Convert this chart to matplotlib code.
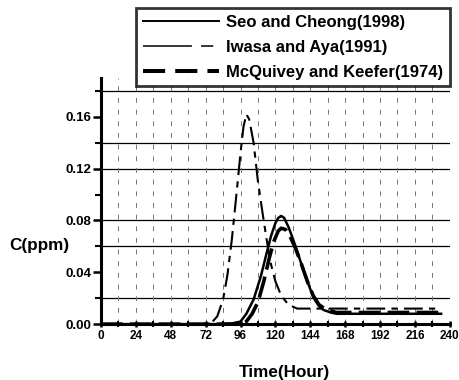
import matplotlib
matplotlib.use('Agg')
import matplotlib.pyplot as plt
from matplotlib.lines import Line2D
from matplotlib.ticker import MultipleLocator, FormatStrFormatter

plt.rcParams['font.family'] = ['Liberation Sans', 'DejaVu Sans']
plt.rcParams['font.weight'] = 'bold'

# data (hours, ppm)
seo_t = [0, 40, 80, 90, 96, 100, 105, 110, 114, 117, 120, 122, 124, 126, 129, 132, 135,
         138, 141, 144, 147, 150, 153, 158, 162, 170, 190, 210, 234]
seo_c = [0.0, 0.0, 0.0, 0.0005, 0.002, 0.008, 0.019, 0.037, 0.055, 0.068, 0.078, 0.082,
         0.0835, 0.082, 0.075, 0.066, 0.056, 0.046, 0.036, 0.027, 0.019, 0.014, 0.011,
         0.009, 0.008, 0.008, 0.008, 0.008, 0.008]

iwasa_t = [0, 40, 70, 76, 80, 84, 87, 90, 93, 96, 98, 100, 102, 105, 108, 111, 114, 117,
           120, 124, 129, 135, 145, 160, 180, 200, 220, 232]
iwasa_c = [0.0, 0.0, 0.0, 0.001, 0.006, 0.019, 0.038, 0.065, 0.098, 0.132, 0.152, 0.162,
           0.158, 0.14, 0.11, 0.087, 0.065, 0.046, 0.033, 0.022, 0.015, 0.012, 0.012,
           0.012, 0.012, 0.012, 0.012, 0.012]

mcq_t = [0, 60, 95, 100, 104, 108, 112, 116, 119, 122, 124, 127, 130, 134, 138, 142, 146,
         150, 155, 162, 175, 200, 225, 234]
mcq_c = [0.0, 0.0, 0.0, 0.002, 0.008, 0.017, 0.033, 0.052, 0.064, 0.072, 0.074, 0.073,
         0.068, 0.058, 0.046, 0.033, 0.022, 0.015, 0.011, 0.009, 0.009, 0.009, 0.009, 0.009]

labels = ['Seo and Cheong(1998)', 'Iwasa and Aya(1991)', 'McQuivey and Keefer(1974)']

hgrid = [0.02, 0.06, 0.08, 0.12, 0.14, 0.18]   # the horizontal rules that show in the scan

fig = plt.figure(figsize=(4.59, 3.80), dpi=100)
ax = fig.add_axes([0.22, 0.147, 0.76, 0.648])

# grid
for v in hgrid:
    ax.axhline(v, color='black', lw=0.9, zorder=1)
for h in range(12, 241, 12):
    ax.axvline(h, color='0.45', lw=0.7, ls=(0, (5, 7)), zorder=1)

ax.plot(seo_t, seo_c, color='black', lw=1.8, zorder=3)
ax.plot(iwasa_t, iwasa_c, color='black', lw=1.5, ls=(0, (9, 3, 3, 3)), zorder=3)
ax.plot(mcq_t, mcq_c, color='black', lw=2.6, ls=(0, (6, 2)), zorder=3)

ax.set_xlim(0, 240)
ax.set_ylim(0, 0.19)
ax.xaxis.set_major_locator(MultipleLocator(24))
ax.xaxis.set_minor_locator(MultipleLocator(12))
ax.yaxis.set_major_locator(MultipleLocator(0.04))
ax.yaxis.set_minor_locator(MultipleLocator(0.02))
ax.yaxis.set_major_formatter(FormatStrFormatter('%.2f'))

for s in ['top', 'right']:
    ax.spines[s].set_visible(False)
for s in ['left', 'bottom']:
    ax.spines[s].set_linewidth(2.2)

ax.tick_params(axis='x', which='major', labelsize=8.5, width=1.8, length=5)
ax.tick_params(axis='y', which='major', labelsize=9.5, width=1.8, length=6)
ax.tick_params(axis='both', which='minor', width=1.5, length=4)
ax.tick_params(axis='x', which='both', direction='inout', pad=2)
ax.tick_params(axis='y', which='both', direction='out', pad=1)
for lab in ax.get_xticklabels() + ax.get_yticklabels():
    lab.set_fontweight('bold')

fig.text(0.085, 0.355, 'C(ppm)', fontsize=12.3, fontweight='bold', ha='center', va='center')
fig.text(0.619, 0.021, 'Time(Hour)', fontsize=12.3, fontweight='bold', ha='center', va='center')

# legend keys drawn with the longer dashes used in the legend box
handles = [Line2D([], [], color='black', lw=1.4),
           Line2D([], [], color='black', lw=1.1, ls=(0, (32, 6, 8, 30))),
           Line2D([], [], color='black', lw=2.9, ls=(0, (5.5, 2.5)))]
leg = fig.legend(handles, labels, loc='upper right', bbox_to_anchor=(0.980, 0.979),
                 fontsize=12, frameon=True, fancybox=False, handlelength=4.6,
                 handletextpad=0.4, labelspacing=0.6, borderpad=0.4, borderaxespad=0)
leg.get_frame().set_edgecolor('black')
leg.get_frame().set_linewidth(2)
for t in leg.get_texts():
    t.set_fontweight('bold')

plt.savefig('out.png', dpi=100)
